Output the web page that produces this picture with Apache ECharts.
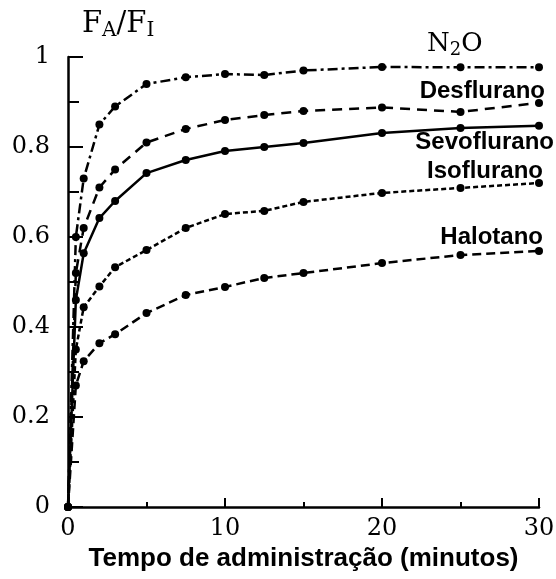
<!DOCTYPE html>
<html>
<head>
<meta charset="utf-8">
<script src="https://cdn.jsdelivr.net/npm/echarts@6/dist/echarts.min.js"></script>
<style>
  html, body { margin: 0; padding: 0; background: #fff; }
  #chart { width: 556px; height: 579px; }
</style>
</head>
<body>
<div id="chart"></div>
<script>
// Time points (minutes) at which FA/FI was measured
const times = [0, 0.5, 1, 2, 3, 5, 7.5, 10, 12.5, 15, 20, 25, 30];

// FA/FI ratios per anaesthetic
const n2o         = [0, 0.60, 0.73, 0.85, 0.89, 0.94, 0.955, 0.962, 0.96, 0.97, 0.978, 0.977, 0.977];
const desflurano  = [0, 0.52, 0.62, 0.71, 0.75, 0.81, 0.84, 0.86, 0.871, 0.88, 0.888, 0.878, 0.898];
const sevoflurano = [0, 0.46, 0.564, 0.642, 0.68, 0.742, 0.771, 0.791, 0.80, 0.809, 0.831, 0.842, 0.847];
const isoflurano  = [0, 0.35, 0.444, 0.49, 0.533, 0.571, 0.62, 0.651, 0.658, 0.678, 0.698, 0.709, 0.72];
const halotano    = [0, 0.27, 0.324, 0.364, 0.384, 0.431, 0.471, 0.489, 0.509, 0.52, 0.542, 0.56, 0.569];

const yTicks = [0, 0.2, 0.4, 0.6, 0.8, 1];
const xTicks = [0, 10, 20, 30];

const serif = '"DejaVu Serif", "Liberation Serif", serif';
const sans = '"Liberation Sans", Arial, sans-serif';

function pairs(values) {
  return times.map((t, i) => [t, values[i]]);
}

function makeSeries(name, values, dash) {
  return {
    name: name,
    type: 'line',
    data: pairs(values),
    symbol: 'circle',
    symbolSize: 8,
    showSymbol: true,
    itemStyle: { color: '#000' },
    lineStyle: { color: '#000', width: 2.5, type: dash },
    animation: false,
    z: 3
  };
}

// Curve name placed next to its curve
function curveLabel(text, right, middle) {
  return {
    type: 'text',
    x: right, y: middle,
    style: {
      text: text, font: 'bold 24px ' + sans, fill: '#000',
      align: 'right', verticalAlign: 'middle'
    },
    z: 10
  };
}

const chart = echarts.init(document.getElementById('chart'), null, { renderer: 'canvas' });

chart.setOption({
  backgroundColor: '#fff',
  animation: false,
  grid: { left: 68, right: 17, top: 57, bottom: 72, containLabel: false, outerBoundsMode: 'none' },
  xAxis: {
    type: 'value',
    min: 0, max: 30, interval: 10,
    axisLine: { lineStyle: { color: '#000', width: 2.5 } },
    axisTick: { inside: true, length: 9, lineStyle: { color: '#000', width: 2 } },
    minorTick: { show: true, splitNumber: 2, length: 5, lineStyle: { color: '#000', width: 2 } },
    splitLine: { show: false },
    axisLabel: {
      color: '#000', fontFamily: serif, fontSize: 24, margin: 10,
      formatter: v => xTicks.includes(v) ? String(v) : ''
    },
    name: 'Tempo de administração (minutos)',
    nameLocation: 'middle',
    nameGap: 37,
    nameTextStyle: { color: '#000', fontFamily: sans, fontWeight: 'bold', fontSize: 26 }
  },
  yAxis: {
    type: 'value',
    min: 0, max: 1, interval: 0.2,
    axisLine: { lineStyle: { color: '#000', width: 2.5 } },
    axisTick: { inside: true, length: 15, lineStyle: { color: '#000', width: 2 } },
    minorTick: { show: true, splitNumber: 2, length: 11, lineStyle: { color: '#000', width: 2 } },
    splitLine: { show: false },
    axisLabel: {
      color: '#000', fontFamily: serif, fontSize: 24, margin: 18,
      formatter: v => {
        const hit = yTicks.find(t => Math.abs(t - v) < 1e-9);
        return hit === undefined ? '' : String(hit);
      }
    }
  },
  series: [
    makeSeries('N2O', n2o, [10, 4, 3, 4]),
    makeSeries('Desflurano', desflurano, [10, 7]),
    makeSeries('Sevoflurano', sevoflurano, 'solid'),
    makeSeries('Isoflurano', isoflurano, [5, 3]),
    makeSeries('Halotano', halotano, [9, 5])
  ],
  graphic: [
    {
      type: 'text', x: 82, y: 24,
      style: {
        text: '{b|F}{s|A}{b|/F}{s|I}',
        verticalAlign: 'middle',
        rich: {
          b: { fontFamily: serif, fontSize: 29, fill: '#000', lineHeight: 34 },
          s: { fontFamily: serif, fontSize: 20, fill: '#000', padding: [14, 0, 0, 0] }
        }
      }
    },
    {
      type: 'text', x: 427, y: 44,
      style: {
        text: '{b|N}{s|2}{b|O}',
        verticalAlign: 'middle',
        rich: {
          b: { fontFamily: serif, fontSize: 26, fill: '#000', lineHeight: 30 },
          s: { fontFamily: serif, fontSize: 18, fill: '#000', padding: [12, 0, 0, 0] }
        }
      }
    },
    curveLabel('Desflurano', 545, 91),
    curveLabel('Sevoflurano', 554, 142),
    curveLabel('Isoflurano', 543, 171),
    curveLabel('Halotano', 543, 237)
  ]
});
</script>
</body>
</html>
